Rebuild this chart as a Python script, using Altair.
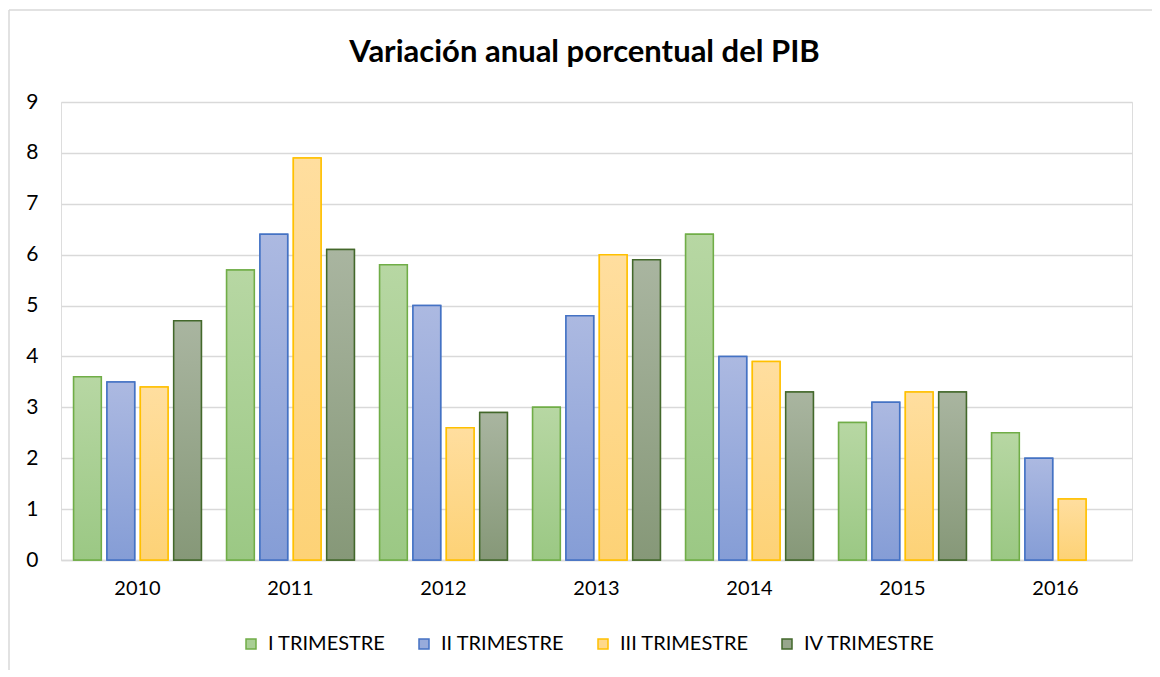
import altair as alt
import pandas as pd

years = ["2010", "2011", "2012", "2013", "2014", "2015", "2016"]
series = ["I TRIMESTRE", "II TRIMESTRE", "III TRIMESTRE", "IV TRIMESTRE"]
v_I = [3.6, 5.7, 5.8, 3.0, 6.4, 2.7, 2.5]
v_II = [3.5, 6.4, 5.0, 4.8, 4.0, 3.1, 2.0]
v_III = [3.4, 7.9, 2.6, 6.0, 3.9, 3.3, 1.2]
v_IV = [4.7, 6.1, 2.9, 5.9, 3.3, 3.3, None]
y_ticks = [0, 1, 2, 3, 4, 5, 6, 7, 8, 9]
title_text = "Variación anual porcentual del PIB"

strokes = ["#70ad47", "#4472c4", "#ffc000", "#43682b"]
fills_mid = ["#a9cf94", "#98abdb", "#fed88c", "#97a68c"]
tops = ["#b7d7a3", "#acb9e1", "#ffde9f", "#a9b5a0"]
bottoms = ["#9bc884", "#859dd6", "#fdd276", "#869878"]

rows = []
for s, vals in zip(series, [v_I, v_II, v_III, v_IV]):
    for y, v in zip(years, vals):
        if v is not None:
            rows.append({"year": y, "trimestre": s, "value": v})
df = pd.DataFrame(rows)

FONT = "Lato"
TXT = "#000000"
GRID = "#d9d9d9"

x_enc = alt.X(
    "year:N",
    sort=years,
    scale=alt.Scale(domain=years, paddingInner=0.165, paddingOuter=0.0825),
    axis=alt.Axis(
        title=None, labelAngle=0, ticks=False, domain=True, domainColor=GRID,
        domainWidth=1.3, labelFontSize=20, labelFont=FONT, labelColor=TXT,
        labelPadding=18,
    ),
)
xo_enc = alt.XOffset(
    "trimestre:N", sort=series,
    scale=alt.Scale(domain=series, paddingInner=0.17, paddingOuter=0),
)
y_enc = alt.Y(
    "value:Q",
    scale=alt.Scale(domain=[0, 9], nice=False),
    axis=alt.Axis(
        title=None, values=y_ticks, ticks=False, domain=False, grid=True,
        gridColor=GRID, gridWidth=1.3, labelFontSize=21, labelFont=FONT,
        labelColor=TXT, labelPadding=23,
    ),
)

leg = alt.Legend(
    title=None, orient="none", legendX=180, legendY=532, direction="horizontal",
    symbolType="square", symbolSize=100, symbolStrokeWidth=1.5,
    labelFontSize=20, labelFont=FONT, labelColor=TXT, columnPadding=28,
    labelOffset=7,
)

base = alt.Chart(df).mark_bar(strokeWidth=1.5).encode(
    x=x_enc, xOffset=xo_enc, y=y_enc,
    fill=alt.Fill("trimestre:N", scale=alt.Scale(domain=series, range=fills_mid), legend=leg),
    stroke=alt.Stroke("trimestre:N", scale=alt.Scale(domain=series, range=strokes), legend=leg),
)

layers = [base]
for i, s in enumerate(series):
    grad = alt.Gradient(
        gradient="linear",
        stops=[alt.GradientStop(color=tops[i], offset=0),
               alt.GradientStop(color=bottoms[i], offset=1)],
        x1=0, x2=0, y1=0, y2=1,
    )
    layers.append(
        alt.Chart(df).transform_filter(alt.datum.trimestre == s)
        .mark_bar(fill=grad, stroke=strokes[i], strokeWidth=1.5)
        .encode(x=x_enc, xOffset=xo_enc, y=y_enc)
    )

one = pd.DataFrame({"title": [title_text]})
border_left = alt.Chart(one).mark_rule(color=GRID, strokeWidth=1.5).encode(
    x=alt.value(-52), y=alt.value(-92), y2=alt.value(620)
)
border_top = alt.Chart(one).mark_rule(color=GRID, strokeWidth=1.5).encode(
    x=alt.value(-52), x2=alt.value(1110), y=alt.value(-92)
)
title_mark = alt.Chart(one).mark_text(
    font=FONT, fontSize=31, fontWeight="bold", color=TXT,
    align="center", baseline="alphabetic",
).encode(x=alt.value(523.5), y=alt.value(-40), text="title:N")
layers += [border_left, border_top, title_mark]

chart = alt.layer(*layers).properties(
    width=1071,
    height=458,
    autosize=alt.AutoSizeParams(type="none"),
    padding={"left": 53, "top": 94, "right": 20, "bottom": 110},
).configure_view(stroke=None).configure(background="white")

chart.save("out.html", embed_options={"renderer": "svg", "actions": False})
